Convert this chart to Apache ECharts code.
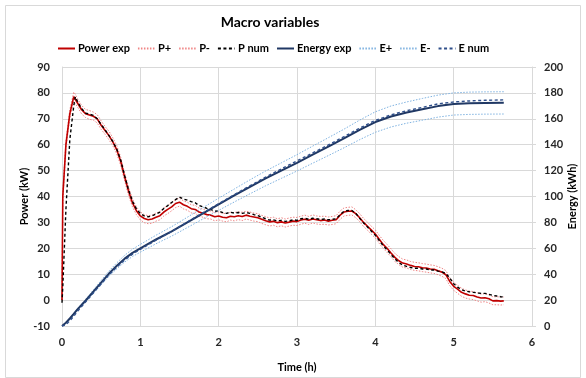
<!DOCTYPE html>
<html>
<head>
<meta charset="utf-8">
<script src="https://cdn.jsdelivr.net/npm/echarts@6/dist/echarts.min.js"></script>
<style>
  html, body { margin: 0; padding: 0; background: #fff; }
  #chart { width: 586px; height: 378px; }
</style>
</head>
<body>
<div id="chart"></div>
<script>
// Time stamps (h) shared by the power series
const pHours = [
  0, 0.01, 0.05, 0.1, 0.15, 0.17, 0.2, 0.25, 0.3, 0.35,
  0.4, 0.45, 0.5, 0.55, 0.6, 0.65, 0.7, 0.75, 0.8, 0.85,
  0.9, 0.95, 1.0, 1.05, 1.1, 1.15, 1.2, 1.25, 1.3, 1.35,
  1.4, 1.45, 1.5, 1.55, 1.6, 1.65, 1.7, 1.75, 1.8, 1.85,
  1.9, 1.95, 2.0, 2.05, 2.1, 2.15, 2.2, 2.25, 2.3, 2.35,
  2.4, 2.45, 2.5, 2.55, 2.6, 2.65, 2.7, 2.75, 2.8, 2.85,
  2.9, 2.95, 3.0, 3.05, 3.1, 3.15, 3.2, 3.25, 3.3, 3.35,
  3.4, 3.45, 3.5, 3.55, 3.6, 3.65, 3.7, 3.75, 3.8, 3.85,
  3.9, 3.95, 4.0, 4.05, 4.1, 4.15, 4.2, 4.25, 4.3, 4.35,
  4.4, 4.45, 4.5, 4.55, 4.6, 4.65, 4.7, 4.75, 4.8, 4.85,
  4.9, 4.95, 5.0, 5.05, 5.1, 5.15, 5.2, 5.25, 5.3, 5.35,
  5.4, 5.45, 5.5, 5.55, 5.6, 5.64
];

// Measured power (kW)
const powerExp = [
  0, 40, 60, 72, 78.5, 77.8, 76, 73.5, 72, 71.5,
  71, 70, 67.5, 65.5, 63.5, 61, 58, 53.5, 47.5, 42,
  37.5, 34.5, 32.5, 31.5, 31, 31.3, 32, 32.6, 34, 35,
  36, 37.3, 37.8, 36.8, 36.2, 35.3, 35, 34, 33.5, 33,
  32.8, 32.2, 32.5, 32, 31.8, 32.4, 32.2, 32.6, 32.3, 32.8,
  32.4, 32.1, 31.8, 31.2, 30.6, 30.2, 30.4, 29.9, 30.2, 29.8,
  30.1, 30.5, 30.3, 30.9, 31.2, 30.8, 31.3, 31, 30.7, 30.9,
  30.5, 30.8, 31, 32.8, 34, 34.3, 34.4, 33.4, 31.8, 30,
  28.5, 27, 25.5, 23.5, 21.5, 20, 18.2, 16.5, 15.2, 14.3,
  13.9, 13.4, 13, 12.9, 12.5, 12.4, 12, 11.9, 11.3, 10.8,
  9.8, 7.2, 5.3, 4.2, 3, 2.4, 1.9, 1.8, 1.2, 0.8,
  0.9, 0.5, -0.3, -0.2, -0.4, -0.3
];

// Upper uncertainty bound of measured power (kW)
const powerPlus = [
  0, 41.5, 61.5, 73.5, 80.3, 79.5, 77.6, 75.2, 73.6, 73.2,
  72.6, 71.6, 69.2, 67, 65.2, 62.6, 59.6, 55.1, 49, 43.6,
  39, 36, 34, 33, 32.6, 32.8, 33.6, 34.1, 35.6, 36.5,
  37.6, 38.8, 39.4, 38.3, 37.8, 36.8, 36.6, 35.5, 35.1, 34.5,
  34.4, 33.7, 34.1, 33.5, 33.4, 33.9, 33.8, 34.1, 33.9, 34.3,
  34, 33.6, 33.4, 32.7, 32.2, 31.7, 32, 31.4, 31.8, 31.3,
  31.7, 32, 31.9, 32.4, 32.8, 32.3, 32.9, 32.5, 32.3, 32.4,
  32.1, 32.3, 32.6, 34.4, 35.6, 35.8, 36, 34.9, 33.4, 31.5,
  30.1, 28.5, 27.1, 25, 23.1, 21.5, 19.8, 18, 16.8, 15.8,
  15.5, 14.9, 14.6, 14.4, 14.1, 13.9, 13.6, 13.4, 12.9, 12.3,
  11.4, 8.7, 6.9, 5.7, 4.6, 3.9, 3.5, 3.3, 2.8, 2.3,
  2.5, 2, 1.3, 1.3, 1.2, 1.2
];

// Lower uncertainty bound of measured power (kW)
const powerMinus = [
  0, 38.5, 58.5, 70.5, 76.8, 76.2, 74.5, 71.9, 70.5, 69.8,
  69.5, 68.4, 65.9, 64, 61.9, 59.5, 56.4, 52, 46, 40.4,
  36, 33, 31, 29.9, 29.5, 29.7, 30.5, 31, 32.5, 33.4,
  34.5, 35.7, 36.3, 35.2, 34.7, 33.7, 33.5, 32.4, 32, 31.4,
  31.3, 30.6, 31, 30.5, 30.2, 30.9, 30.6, 31.1, 30.7, 31.3,
  30.9, 30.5, 30.3, 29.6, 29.1, 28.6, 28.9, 28.3, 28.7, 28.2,
  28.6, 28.9, 28.8, 29.3, 29.7, 29.2, 29.8, 29.4, 29.2, 29.3,
  29, 29.2, 29.5, 31.2, 32.5, 32.7, 32.9, 31.8, 30.3, 28.4,
  27, 25.4, 24, 21.9, 20, 18.4, 16.7, 14.9, 13.7, 12.7,
  12.4, 11.8, 11.5, 11.3, 11, 10.8, 10.5, 10.3, 9.8, 9.2,
  8.3, 5.6, 3.8, 2.6, 1.5, 0.8, 0.4, 0.2, -0.3, -0.8,
  -0.6, -1.1, -1.8, -1.8, -1.9, -1.8
];

// Simulated power (kW)
const powerNum = [
  -1, 5, 35, 62, 75, 78.5, 76.5, 74, 72.2, 71.8,
  71.3, 70, 67.8, 65.8, 63.5, 61.2, 58.2, 54, 48, 42.5,
  38.2, 35.2, 33.4, 32.5, 32.2, 32.5, 33.2, 34, 35.4, 36.5,
  37.7, 38.8, 39.8, 39, 38.6, 38, 37.6, 36.5, 36, 35.4,
  35, 34.3, 34.4, 33.8, 33.5, 33.9, 33.6, 33.8, 33.5, 33.8,
  33.5, 33, 32.6, 32, 31.4, 30.9, 31, 30.6, 30.8, 30.4,
  30.6, 31, 30.8, 31.4, 31.6, 31.2, 31.6, 31.4, 31.1, 31.3,
  31, 31.2, 31.4, 33, 34.3, 34.6, 34.6, 33.5, 31.6, 29.8,
  28.2, 26.6, 25, 23, 21, 19.4, 17.6, 15.9, 14.5, 13.5,
  13, 12.6, 12.3, 12.3, 12, 12, 11.6, 11.6, 11.2, 10.9,
  10.3, 8.5, 6.3, 5, 4, 3.5, 3.2, 3, 2.8, 2.6,
  2.6, 2.2, 1.8, 1.6, 1.3, 1.2
];

// Time stamps (h) for the energy series
const eHours = [
  0, 0.05, 0.1, 0.15, 0.2, 0.3, 0.4, 0.5, 0.6, 0.7,
  0.8, 0.9, 1.0, 1.2, 1.4, 1.6, 1.8, 2.0, 2.2, 2.4,
  2.6, 2.8, 3.0, 3.2, 3.4, 3.6, 3.8, 4.0, 4.2, 4.4,
  4.6, 4.8, 5.0, 5.2, 5.4, 5.64
];

// Measured cumulative energy (kWh)
const energyExp = [
  0, 2.5, 5.8, 9.3, 13, 19.5, 26.5, 33.5, 40.5, 46.5,
  52, 56.5, 60, 66.8, 73, 80, 87, 94, 100.8, 107.5,
  114, 120, 126, 132.3, 138.5, 144.8, 151.5, 157.5, 161.8, 164.8,
  167.3, 169.8, 171.5, 172, 172.2, 172.3
];

// Upper bound of measured energy (kWh)
const energyPlus = [
  0, 2.6, 6.1, 9.8, 13.7, 20.5, 27.8, 35.2, 42.5, 48.8,
  54.6, 59.3, 63, 70.1, 76.7, 84, 91.4, 98.7, 105.8, 112.9,
  119.7, 126, 132.3, 138.9, 145.4, 152, 159, 165.4, 169.9, 173,
  175.7, 178.3, 180, 180.6, 180.8, 180.9
];

// Lower bound of measured energy (kWh)
const energyMinus = [
  0, 2.4, 5.5, 8.8, 12.4, 18.5, 25.2, 31.8, 38.5, 44.2,
  49.4, 53.7, 57, 63.5, 69.4, 76, 82.7, 89.3, 95.8, 102.1,
  108.3, 114, 119.7, 125.7, 131.6, 137.6, 143.9, 149.6, 153.7, 156.6,
  158.9, 161.3, 162.9, 163.4, 163.6, 163.7
];

// Simulated cumulative energy (kWh)
const energyNum = [
  0, 1, 4, 7.5, 11.5, 18.5, 25.5, 32.5, 39.5, 45.5,
  51, 55.5, 59.2, 66.3, 73, 80.3, 87.5, 94.5, 101.5, 108.3,
  115, 121.3, 127.5, 133.6, 139.8, 146.2, 152.8, 158.8, 163, 166.3,
  168.8, 171.5, 173, 173.8, 174.3, 174.6
];

const seriesNames = ['Power exp', 'P+', 'P-', 'P num', 'Energy exp', 'E+', 'E-', 'E num'];

function pairs(xs, ys) {
  return xs.map((x, i) => [x, ys[i]]);
}

const FONT = 'Lato';
const TEXT = '#262626';
const GRID = '#d9d9d9';

function lineSeries(name, xs, ys, axis, color, width, type, z) {
  return {
    name: name,
    type: 'line',
    yAxisIndex: axis,
    data: pairs(xs, ys),
    symbol: 'none',
    showSymbol: false,
    smooth: false,
    animation: false,
    z: z,
    lineStyle: { color: color, width: width, type: type },
    itemStyle: { color: color }
  };
}

const chart = echarts.init(document.getElementById('chart'), null, { renderer: 'canvas' });

chart.setOption({
  backgroundColor: '#ffffff',
  animation: false,
  textStyle: { fontFamily: FONT },
  title: {
    text: 'Macro variables',
    left: 265,
    top: 10,
    textAlign: 'center',
    textStyle: { fontFamily: FONT, fontSize: 14, fontWeight: 'bold', color: '#000' }
  },
  legend: {
    data: seriesNames,
    left: 52,
    top: 38,
    itemWidth: 17,
    itemHeight: 10,
    itemGap: 7,
    itemStyle: { opacity: 0 },
    textStyle: { fontFamily: FONT, fontSize: 11, fontWeight: 'bold', color: '#000', padding: [0, 0, 0, -2] }
  },
  grid: { left: 62, right: 53, top: 67, bottom: 24, containLabel: false },
  xAxis: {
    type: 'value',
    min: 0,
    max: 6,
    interval: 1,
    name: 'Time (h)',
    nameLocation: 'middle',
    nameGap: 36,
    nameMoveOverlap: false,
    nameTextStyle: { fontFamily: FONT, fontSize: 11, fontWeight: 'bold', color: '#000' },
    axisLine: { onZero: true, onZeroAxisIndex: 0, lineStyle: { color: GRID, width: 1 } },
    axisTick: { show: true, length: 4, lineStyle: { color: GRID } },
    axisLabel: { margin: 11, fontFamily: FONT, fontSize: 11, fontWeight: 'bold', color: TEXT },
    splitLine: { show: true, lineStyle: { color: GRID, width: 1 } }
  },
  yAxis: [
    {
      type: 'value',
      min: -10,
      max: 90,
      interval: 10,
      name: 'Power (kW)',
      nameLocation: 'middle',
      nameGap: 32,
      nameMoveOverlap: false,
      nameRotate: 90,
      nameTextStyle: { fontFamily: FONT, fontSize: 11, fontWeight: 'bold', color: '#000' },
      axisLine: { show: true, lineStyle: { color: GRID } },
      axisTick: { show: false },
      axisLabel: { margin: 12, fontFamily: FONT, fontSize: 11, fontWeight: 'bold', color: TEXT },
      splitLine: { show: true, lineStyle: { color: GRID, width: 1 } }
    },
    {
      type: 'value',
      min: 0,
      max: 200,
      interval: 20,
      name: 'Energy (kWh)',
      nameLocation: 'middle',
      nameGap: 35,
      nameMoveOverlap: false,
      nameRotate: 90,
      nameTextStyle: { fontFamily: FONT, fontSize: 11, fontWeight: 'bold', color: '#000' },
      axisLine: { show: true, lineStyle: { color: GRID } },
      axisTick: { show: true, length: 4, inside: false, lineStyle: { color: GRID } },
      axisLabel: { margin: 12, fontFamily: FONT, fontSize: 11, fontWeight: 'bold', color: TEXT },
      splitLine: { show: false }
    }
  ],
  graphic: [
    {
      type: 'rect',
      shape: { x: 5.5, y: 5.5, width: 575, height: 372 },
      style: { fill: 'none', stroke: '#d9d9d9', lineWidth: 1 },
      silent: true,
      z: -10
    }
  ],
  series: [
    lineSeries('Power exp', pHours, powerExp, 0, '#c00000', 1.6, 'solid', 3),
    lineSeries('P+', pHours, powerPlus, 0, '#f08585', 1, [1.5, 1.5], 2),
    lineSeries('P-', pHours, powerMinus, 0, '#f08585', 1, [1.5, 1.5], 2),
    lineSeries('P num', pHours, powerNum, 0, '#000000', 1.4, [3, 2.5], 4),
    lineSeries('Energy exp', eHours, energyExp, 1, '#203864', 2, 'solid', 5),
    lineSeries('E+', eHours, energyPlus, 1, '#7fb2e0', 1, [1.5, 1.5], 4),
    lineSeries('E-', eHours, energyMinus, 1, '#7fb2e0', 1, [1.5, 1.5], 4),
    lineSeries('E num', eHours, energyNum, 1, '#2f4f8a', 1.4, [3, 2.5], 6)
  ]
});
</script>
</body>
</html>
